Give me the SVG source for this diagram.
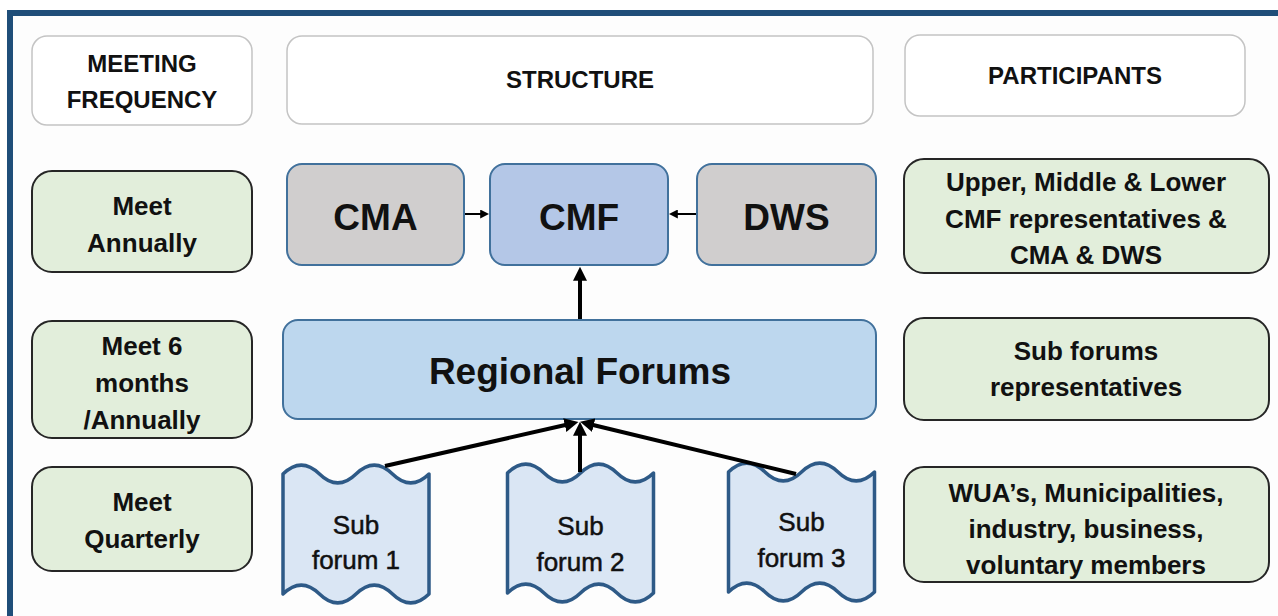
<svg xmlns="http://www.w3.org/2000/svg" width="1278" height="616" viewBox="0 0 1278 616">
<style>
text{font-family:"Liberation Sans",Arial,sans-serif;fill:#111;text-anchor:middle}
.hdr{fill:#fff;stroke:#c4c4c4;stroke-width:1.5}
.grn{fill:#e2eedb;stroke:#262626;stroke-width:2}
.gry{fill:#d0cece;stroke:#41719c;stroke-width:2}
.cmf{fill:#b4c7e7;stroke:#41719c;stroke-width:2}
.reg{fill:#bdd7ee;stroke:#41719c;stroke-width:2}
.sub{fill:#dae6f4;stroke:#2e5a87;stroke-width:3.5;stroke-linejoin:round}
.th{font-size:24px;font-weight:bold}
.tb{font-size:26px;font-weight:bold}
.tbig{font-size:37px;font-weight:bold}
.ts{font-size:26px;stroke:#111;stroke-width:0.5}
.con{stroke:#000;fill:none}
</style>
<defs>
<marker id="ahL" viewBox="0 0 10 10" refX="2" refY="5" markerUnits="userSpaceOnUse" markerWidth="14" markerHeight="14" orient="auto"><path d="M0,0 L10,5 L0,10 z" fill="#000"/></marker>
<marker id="ahS" viewBox="0 0 10 10" refX="2" refY="5" markerUnits="userSpaceOnUse" markerWidth="9" markerHeight="9" orient="auto"><path d="M0,0 L10,5 L0,10 z" fill="#000"/></marker>
<path id="tape" d="M0,0 C12.2,-12 24.3,-12 36.5,0 C48.7,12 60.8,12 73,0 C85.2,-12 97.3,-12 109.5,0 C121.7,12 133.8,12 146,0 L146,120 C133.8,132 121.7,132 109.5,120 C97.3,108 85.2,108 73,120 C60.8,132 48.7,132 36.5,120 C24.3,108 12.2,108 0,120 Z"/>
</defs>
<rect x="0" y="0" width="1278" height="616" fill="#fff"/>
<g id="frame">
<rect x="13" y="16" width="1265" height="600" fill="#fdfdfd"/>
<rect x="7" y="10" width="1271" height="6" fill="#1f4e79"/>
<rect x="7" y="10" width="6" height="606" fill="#1f4e79"/>
</g>
<g id="hdr-freq"><rect class="hdr" x="32" y="36" width="220" height="89" rx="15"/><text class="th" x="142" y="72">MEETING</text><text class="th" x="142" y="108">FREQUENCY</text></g>
<g id="hdr-structure"><rect class="hdr" x="287" y="36" width="586" height="88" rx="15"/><text class="th" x="580" y="88">STRUCTURE</text></g>
<g id="hdr-participants"><rect class="hdr" x="905" y="35" width="340" height="81" rx="15"/><text class="th" x="1075" y="84">PARTICIPANTS</text></g>

<g id="freq-annual"><rect class="grn" x="32" y="171" width="220" height="101" rx="20"/><text class="tb" x="142" y="215">Meet</text><text class="tb" x="142" y="252">Annually</text></g>
<g id="freq-6months"><rect class="grn" x="32" y="321" width="220" height="117" rx="20"/><text class="tb" x="142" y="355">Meet 6</text><text class="tb" x="142" y="392">months</text><text class="tb" x="142" y="429">/Annually</text></g>
<g id="freq-quarterly"><rect class="grn" x="32" y="467" width="220" height="104" rx="20"/><text class="tb" x="142" y="511">Meet</text><text class="tb" x="142" y="548">Quarterly</text></g>

<g id="cma"><rect class="gry" x="287" y="164" width="177" height="101" rx="15"/><text class="tbig" x="375.5" y="230">CMA</text></g>
<g id="cmf"><rect class="cmf" x="490" y="164" width="178" height="101" rx="15"/><text class="tbig" x="579" y="230">CMF</text></g>
<g id="dws"><rect class="gry" x="697" y="164" width="179" height="101" rx="15"/><text class="tbig" x="786.5" y="230">DWS</text></g>
<g id="regional"><rect class="reg" x="283" y="320" width="593" height="99" rx="15"/><text class="tbig" x="580" y="384">Regional Forums</text></g>

<g id="sub1"><use href="#tape" class="sub" transform="translate(283,474)"/><text class="ts" x="356" y="534">Sub</text><text class="ts" x="356" y="569">forum 1</text></g>
<g id="sub2"><use href="#tape" class="sub" transform="translate(507.5,473)"/><text class="ts" x="580.5" y="535">Sub</text><text class="ts" x="580.5" y="571">forum 2</text></g>
<g id="sub3"><use href="#tape" class="sub" transform="translate(728.5,472)"/><text class="ts" x="801.5" y="531">Sub</text><text class="ts" x="801.5" y="567">forum 3</text></g>

<g id="part-cmf"><rect class="grn" x="904" y="159" width="365" height="114" rx="20"/><text class="tb" x="1086" y="191">Upper, Middle &amp; Lower</text><text class="tb" x="1086" y="228">CMF representatives &amp;</text><text class="tb" x="1086" y="264">CMA &amp; DWS</text></g>
<g id="part-regional"><rect class="grn" x="904" y="318" width="365" height="102" rx="20"/><text class="tb" x="1086" y="360">Sub forums</text><text class="tb" x="1086" y="396">representatives</text></g>
<g id="part-sub"><rect class="grn" x="904" y="467" width="365" height="115" rx="20"/><text class="tb" x="1086" y="502">WUA’s, Municipalities,</text><text class="tb" x="1086" y="538">industry, business,</text><text class="tb" x="1086" y="574">voluntary members</text></g>

<g id="connectors">
<line class="con" x1="465" y1="214" x2="482" y2="214" stroke-width="2" marker-end="url(#ahS)"/>
<line class="con" x1="696" y1="214" x2="676" y2="214" stroke-width="2" marker-end="url(#ahS)"/>
<line class="con" x1="580" y1="319" x2="580" y2="278" stroke-width="4" marker-end="url(#ahL)"/>
<line class="con" x1="385" y1="466" x2="567.5" y2="424.5" stroke-width="4" marker-end="url(#ahL)"/>
<line class="con" x1="580" y1="472" x2="580" y2="433" stroke-width="4" marker-end="url(#ahL)"/>
<line class="con" x1="796" y1="474" x2="591" y2="424.5" stroke-width="4" marker-end="url(#ahL)"/>
</g>
</svg>
